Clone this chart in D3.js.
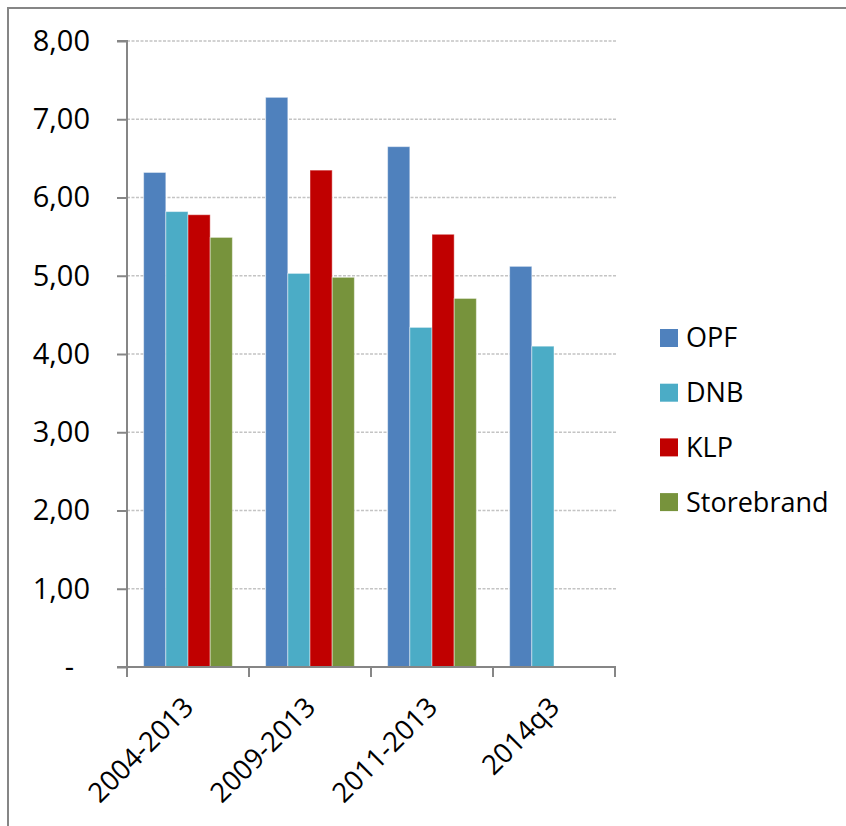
<!DOCTYPE html>
<html>
<head>
<meta charset="utf-8">
<script src="https://cdn.jsdelivr.net/npm/d3@7"></script>
<style>
  html, body { margin: 0; padding: 0; background: #fff; }
  svg { display: block; }
  text { font-family: "Open Sans", "Liberation Sans", sans-serif; fill: #000; }
</style>
</head>
<body>
<svg id="chart" width="846" height="826"></svg>
<script>
const categories = ["2004-2013", "2009-2013", "2011-2013", "2014q3"];
const seriesNames = ["OPF", "DNB", "KLP", "Storebrand"];
const seriesColors = ["#4F81BD", "#4BACC6", "#C00000", "#77933C"];
const OPF = [6.32, 7.28, 6.65, 5.12];
const DNB = [5.82, 5.03, 4.34, 4.10];
const KLP = [5.78, 6.35, 5.53, null];
const Storebrand = [5.49, 4.98, 4.71, null];
const yTicks = [0, 1, 2, 3, 4, 5, 6, 7, 8];
const yTickLabels = ["-", "1,00", "2,00", "3,00", "4,00", "5,00", "6,00", "7,00", "8,00"];

const seriesValues = [OPF, DNB, KLP, Storebrand];

(function () {
const svg = d3.select("#chart");
const pLeft = 127, pRight = 615, pTop = 41, pBottom = 667;
const axisColor = "#868686";

// outer chart border (only top/left visible)
svg.append("rect")
  .attr("x", 8).attr("y", 8)
  .attr("width", 900).attr("height", 900)
  .attr("fill", "none").attr("stroke", axisColor).attr("stroke-width", 2);

const x0 = d3.scaleBand().domain(categories).range([pLeft, pRight]).padding(0);
const x1 = d3.scaleBand().domain(seriesNames).range([0, x0.bandwidth()])
  .paddingInner(0).paddingOuter(0.75);
const y = d3.scaleLinear().domain([0, 8]).range([pBottom, pTop]);

// gridlines
svg.append("g").selectAll("line")
  .data(yTicks.filter(d => d > 0))
  .join("line")
  .attr("x1", pLeft).attr("x2", pRight + 1)
  .attr("y1", d => y(d)).attr("y2", d => y(d))
  .attr("stroke", "#c4c4c4").attr("stroke-width", 1.3)
  .attr("stroke-dasharray", "3,1.5");

// bars
const groups = svg.append("g").selectAll("g")
  .data(categories)
  .join("g")
  .attr("transform", d => `translate(${x0(d)},0)`);

groups.selectAll("rect")
  .data((c, i) => seriesNames.map((s, k) => ({ s, k, v: seriesValues[k][i] })).filter(d => d.v != null))
  .join("rect")
  .attr("x", d => x1(d.s))
  .attr("width", x1.bandwidth())
  .attr("y", d => y(d.v))
  .attr("height", d => y(0) - y(d.v))
  .attr("fill", d => seriesColors[d.k])
  .attr("stroke", "rgba(255,255,255,0.45)")
  .attr("stroke-width", 1);

// y axis
const yAxis = d3.axisLeft(y).tickValues(yTicks)
  .tickFormat((d, i) => yTickLabels[i]).tickSize(10).tickPadding(27);
const gy = svg.append("g").attr("transform", `translate(${pLeft},0)`).call(yAxis);
gy.select(".domain").attr("stroke", axisColor).attr("stroke-width", 2)
  .attr("d", `M-10,${pTop}H0V${pBottom}`);
gy.selectAll(".tick line").attr("stroke", axisColor).attr("stroke-width", 2);
gy.selectAll(".tick text")
  .style("font-family", '"Open Sans", sans-serif')
  .attr("font-size", 29).attr("fill", "#000")
  .attr("dx", (d) => d === 0 ? -16 : 0);

// x axis with ticks at category boundaries
const gx = svg.append("g").attr("transform", `translate(0,${pBottom})`);
gx.append("line").attr("x1", pLeft - 10).attr("x2", pRight + 1)
  .attr("y1", 0).attr("y2", 0)
  .attr("stroke", axisColor).attr("stroke-width", 2);
const boundaries = categories.map(c => x0(c)).concat([x0(categories[categories.length - 1]) + x0.bandwidth()]);
gx.selectAll("line.tk").data(boundaries).join("line")
  .attr("class", "tk")
  .attr("x1", d => d).attr("x2", d => d)
  .attr("y1", 0).attr("y2", 10)
  .attr("stroke", axisColor).attr("stroke-width", 2);
gx.selectAll("text").data(categories).join("text")
  .attr("text-anchor", "end")
  .attr("font-size", 27.5)
  .attr("transform", d => `translate(${x0(d) + x0.bandwidth() / 2 + 7},${42}) rotate(-45)`)
  .text(d => d);

// legend
const legend = svg.append("g").selectAll("g")
  .data(seriesNames)
  .join("g")
  .attr("transform", (d, i) => `translate(660,${338 + i * 54.7})`);
legend.append("rect")
  .attr("x", 0).attr("y", -9).attr("width", 18).attr("height", 18)
  .attr("fill", (d, i) => seriesColors[i]);
legend.append("text")
  .attr("x", 26).attr("y", 0).attr("dy", "0.35em")
  .attr("font-size", 27)
  .text(d => d);
})();
</script>
</body>
</html>
